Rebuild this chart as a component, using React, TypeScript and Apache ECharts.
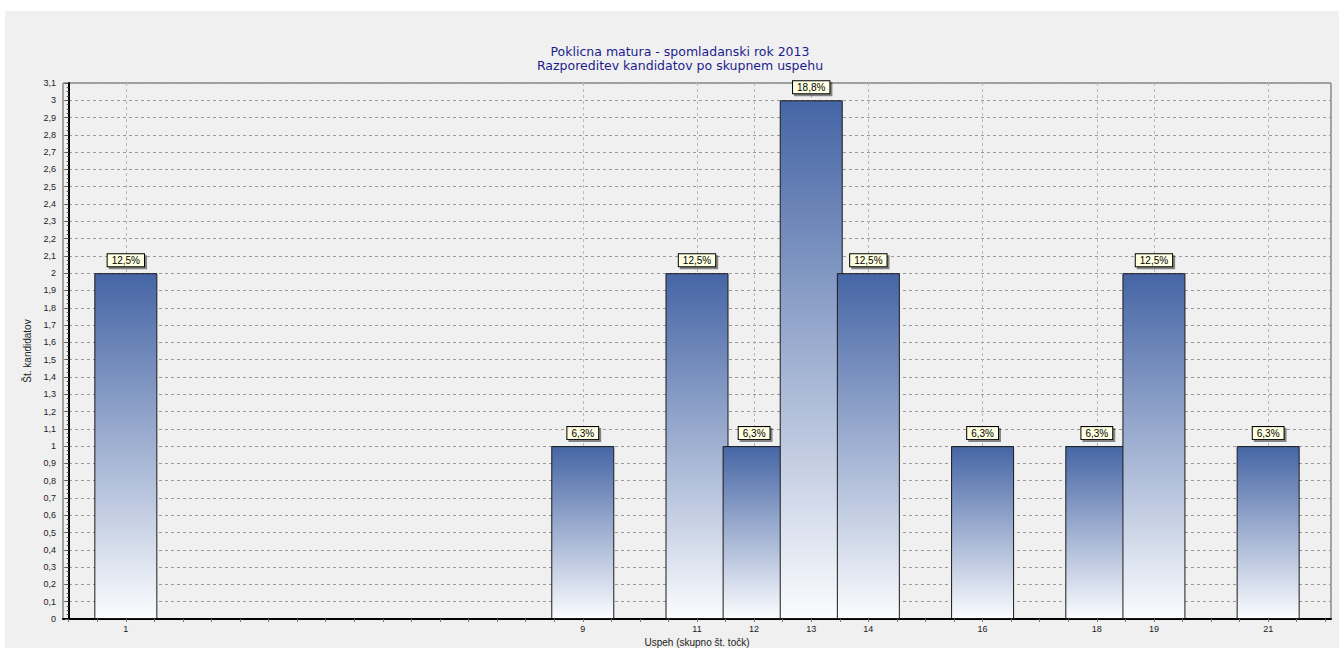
import React, { useEffect, useRef } from "react";
import * as echarts from "echarts";

const scores = [1, 9, 11, 12, 13, 14, 16, 18, 19, 21];
const counts = [2, 1, 2, 1, 3, 2, 1, 1, 2, 1];
const percents = ["12,5%", "6,3%", "12,5%", "6,3%", "18,8%", "12,5%", "6,3%", "6,3%", "12,5%", "6,3%"];
const minorTicks = [
  0, 0.5, 1, 1.5, 2, 2.5, 3, 3.5, 4, 4.5, 5, 5.5, 6, 6.5, 7, 7.5, 8, 8.5, 9, 9.5, 10, 10.5, 11, 11.5,
  12, 12.5, 13, 13.5, 14, 14.5, 15, 15.5, 16, 16.5, 17, 17.5, 18, 18.5, 19, 19.5, 20, 20.5, 21, 21.5, 22,
];
const titleLine1 = "Poklicna matura - spomladanski rok 2013";
const titleLine2 = "Razporeditev kandidatov po skupnem uspehu";
const yName = "Št. kandidatov";
const xName = "Uspeh (skupno št. točk)";

const FONT = "Liberation Sans, Arial, sans-serif";
const TITLE_FONT = "DejaVu Sans, Verdana, sans-serif";

export default function App() {
  const ref = useRef<HTMLDivElement>(null);
  useEffect(() => {
    document.body.style.margin = "0";
    const chart = echarts.init(ref.current!, null, { renderer: "svg" });
    chart.setOption({
      animation: false,
      backgroundColor: "#ffffff",
      graphic: [
        {
          type: "rect",
          z: -10,
          silent: true,
          shape: { x: 5, y: 11, width: 1339, height: 648 },
          style: { fill: "#f0f0f0" },
        },
        {
          type: "text",
          x: 680,
          y: 51,
          style: {
            text: titleLine1,
            fill: "#1c1c8c",
            font: "12.5px " + TITLE_FONT,
            textAlign: "center",
            textVerticalAlign: "middle",
          },
        },
        {
          type: "text",
          x: 680,
          y: 65,
          style: {
            text: titleLine2,
            fill: "#1c1c8c",
            font: "12.5px " + TITLE_FONT,
            textAlign: "center",
            textVerticalAlign: "middle",
          },
        },
      ],
      grid: {
        left: 63,
        right: 8,
        top: 83,
        bottom: 29,
        outerBoundsMode: "none",
        containLabel: false,
        show: true,
        borderColor: "#555555",
        borderWidth: 1,
        backgroundColor: "transparent",
      },
      xAxis: [
        {
          type: "value",
          min: -0.1,
          max: 22.1,
          position: "bottom",
          name: xName,
          nameLocation: "middle",
          nameGap: 14,
          nameTextStyle: { fontFamily: FONT, fontSize: 10, lineHeight: 10, color: "#222" },
          axisLine: { show: true, lineStyle: { color: "#000", width: 2 } },
          axisTick: { show: true, customValues: scores, length: 3, lineStyle: { color: "#666" } },
          axisLabel: {
            customValues: scores,
            fontFamily: FONT,
            fontSize: 9,
            lineHeight: 9,
            color: "#222",
            margin: 5,
          },
          splitLine: {
            show: true,
            lineStyle: { color: "#b8b8b8", type: [3, 3], width: 1 },
          },
        },
        {
          type: "value",
          min: -0.1,
          max: 22.1,
          position: "bottom",
          axisLine: { show: false },
          axisTick: { show: true, customValues: minorTicks, length: 3, lineStyle: { color: "#777" } },
          axisLabel: { show: false },
          splitLine: { show: false },
        },
      ],
      yAxis: {
        type: "value",
        min: 0,
        max: 3.1,
        interval: 0.1,
        name: yName,
        nameLocation: "middle",
        nameGap: 28,
        nameTextStyle: { fontFamily: FONT, fontSize: 10, color: "#222" },
        axisLine: { show: true, lineStyle: { color: "#000", width: 2 } },
        axisTick: { show: true, length: 4, lineStyle: { color: "#555" } },
        minorTick: { show: true, splitNumber: 4, length: 2, lineStyle: { color: "#555" } },
        axisLabel: {
          fontFamily: FONT,
          fontSize: 9,
          color: "#222",
          margin: 7,
          formatter: (v: number) => String(Math.round(v * 10) / 10).replace(".", ","),
        },
        splitLine: {
          show: true,
          lineStyle: { color: "#999999", type: [3, 3], width: 1 },
        },
      },
      series: [
        {
          type: "bar",
          xAxisIndex: 0,
          barWidth: 63,
          data: scores.map((s, i) => [s, counts[i]]),
          itemStyle: {
            color: new echarts.graphic.LinearGradient(0, 0, 0, 1, [
              { offset: 0, color: "#4565a5" },
              { offset: 1, color: "#fbfcfe" },
            ]),
            borderColor: "#1a1a1a",
            borderWidth: 1,
          },
          label: {
            show: true,
            position: "top",
            distance: 7,
            formatter: (p: any) => percents[p.dataIndex],
            fontFamily: FONT,
            fontSize: 10,
            fontWeight: "normal",
            color: "#000",
            lineHeight: 10,
            backgroundColor: "#ffffe1",
            borderColor: "#000",
            borderWidth: 1,
            padding: [1, 4],
            shadowColor: "rgba(0,0,0,0.45)",
            shadowOffsetX: 2,
            shadowOffsetY: 2,
            shadowBlur: 0,
          },
        },
      ],
    });
    return () => chart.dispose();
  }, []);
  return <div ref={ref} style={{ width: 1339, height: 648 }} />;
}
